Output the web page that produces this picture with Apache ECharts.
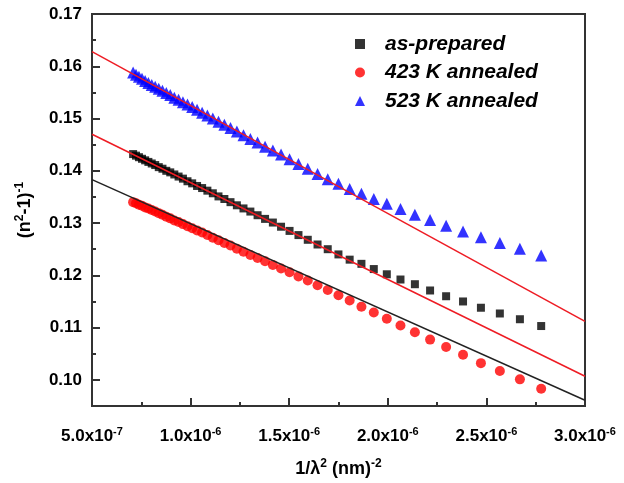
<!DOCTYPE html>
<html><head><meta charset="utf-8">
<script src="https://cdn.jsdelivr.net/npm/echarts@6/dist/echarts.min.js"></script>
<style>html,body{margin:0;padding:0;background:#fff}#c{width:624px;height:483px}</style>
</head><body><div id="c"></div>
<script>
// x = 1/lambda^2 (nm^-2)
const xValues = [7.085e-7, 7.231e-7, 7.381e-7, 7.535e-7, 7.695e-7, 7.859e-7, 8.029e-7, 8.205e-7, 8.386e-7, 8.573e-7,
  8.767e-7, 8.968e-7, 9.175e-7, 9.390e-7, 9.612e-7, 9.842e-7, 1.0080e-6, 1.0328e-6, 1.0584e-6, 1.0851e-6,
  1.1127e-6, 1.1414e-6, 1.1713e-6, 1.2023e-6, 1.2346e-6, 1.2682e-6, 1.3031e-6, 1.3396e-6, 1.3776e-6, 1.4172e-6,
  1.4586e-6, 1.5018e-6, 1.5470e-6, 1.5942e-6, 1.6437e-6, 1.6954e-6, 1.7497e-6, 1.8066e-6, 1.8663e-6, 1.9290e-6,
  1.9950e-6, 2.0643e-6, 2.1374e-6, 2.2144e-6, 2.2957e-6, 2.3815e-6, 2.4722e-6, 2.5682e-6, 2.6699e-6, 2.7778e-6];
const asPrepared = [0.1432, 0.1429, 0.1426, 0.1423, 0.1420, 0.1417, 0.1414, 0.1411, 0.1407, 0.1404,
  0.1400, 0.1397, 0.1393, 0.1389, 0.1385, 0.1380, 0.1376, 0.1371, 0.1367, 0.1362,
  0.1357, 0.1351, 0.1346, 0.1340, 0.1334, 0.1328, 0.1322, 0.1315, 0.1308, 0.1301,
  0.1293, 0.1285, 0.1277, 0.1268, 0.1259, 0.1250, 0.1240, 0.1230, 0.1222, 0.1212,
  0.1202, 0.1192, 0.1183, 0.1171, 0.1160, 0.1150, 0.1138, 0.1127, 0.1116, 0.1103];
const annealed423 = [0.1340, 0.1338, 0.1335, 0.1333, 0.1330, 0.1328, 0.1325, 0.1322, 0.1319, 0.1316,
  0.1312, 0.1309, 0.1305, 0.1302, 0.1298, 0.1294, 0.1290, 0.1286, 0.1282, 0.1277,
  0.1272, 0.1267, 0.1262, 0.1257, 0.1251, 0.1245, 0.1239, 0.1233, 0.1227, 0.1220,
  0.1213, 0.1206, 0.1198, 0.1190, 0.1181, 0.1172, 0.1162, 0.1152, 0.1140, 0.1129,
  0.1117, 0.1104, 0.1091, 0.1077, 0.1063, 0.1048, 0.1032, 0.1017, 0.1001, 0.0983];
const annealed523 = [0.1588, 0.1584, 0.1580, 0.1576, 0.1572, 0.1568, 0.1564, 0.1561, 0.1557, 0.1553,
  0.1549, 0.1545, 0.1540, 0.1536, 0.1531, 0.1527, 0.1522, 0.1517, 0.1511, 0.1506,
  0.1500, 0.1494, 0.1488, 0.1482, 0.1475, 0.1468, 0.1461, 0.1454, 0.1446, 0.1439,
  0.1431, 0.1422, 0.1413, 0.1404, 0.1394, 0.1384, 0.1375, 0.1365, 0.1356, 0.1346,
  0.1337, 0.1327, 0.1316, 0.1306, 0.1295, 0.1284, 0.1273, 0.1262, 0.1251, 0.1238];
// linear fits (end points at x = 5e-7 and 3e-6)
const fitX = [5e-7, 3e-6];
const fitAsPrepared = [0.1470, 0.1007];
const fit423 = [0.1383, 0.0961];
const fit523 = [0.1628, 0.1112];
// ticks
const xTickValues = [5e-7, 1e-6, 1.5e-6, 2e-6, 2.5e-6, 3e-6];
const xTickLabels = [['5.0', '-7'], ['1.0', '-6'], ['1.5', '-6'], ['2.0', '-6'], ['2.5', '-6'], ['3.0', '-6']];
const yTickValues = [0.10, 0.11, 0.12, 0.13, 0.14, 0.15, 0.16, 0.17];
const yTickLabels = ['0.10', '0.11', '0.12', '0.13', '0.14', '0.15', '0.16', '0.17'];
const yMinorTicks = [0.095, 0.105, 0.115, 0.125, 0.135, 0.145, 0.155, 0.165];
const seriesNames = ['as-prepared', '423 K annealed', '523 K annealed'];

const FONT = 'Liberation Sans, Arial, sans-serif';
const AX = '#333';
const pts = arr => xValues.map((x, i) => [x, arr[i]]);
const fitLine = arr => fitX.map((x, i) => [x, arr[i]]);

const chart = echarts.init(document.getElementById('c'), null, {renderer: 'canvas'});
chart.setOption({
  animation: false,
  backgroundColor: '#fff',
  grid: {left: 92, right: 39, top: 14, bottom: 75, show: true, borderColor: AX, borderWidth: 2, containLabel: false},
  legend: {
    data: seriesNames.map(n => ({name: n})),
    orient: 'vertical', left: 350, top: 27, itemGap: 4.5,
    itemWidth: 10, itemHeight: 10,
    textStyle: {fontFamily: FONT, fontSize: 21, lineHeight: 24, fontWeight: 'bold', fontStyle: 'italic', color: '#000', padding: [0, 0, 0, 15]}
  },
  xAxis: {
    type: 'value', min: 5e-7, max: 3e-6, interval: 5e-7,
    axisLine: {lineStyle: {color: AX, width: 2}},
    axisTick: {inside: true, length: 8, lineStyle: {color: AX, width: 2}},
    minorTick: {show: true, splitNumber: 2, length: 4, lineStyle: {color: AX, width: 2}},
    splitLine: {show: false},
    axisLabel: {
      margin: 20,
      formatter: v => {
        const i = xTickValues.findIndex(t => Math.abs(t - v) < 1e-10);
        if (i < 0) return '';
        return '{m|' + xTickLabels[i][0] + 'x10}{s|' + xTickLabels[i][1] + '}';
      },
      rich: {
        m: {fontFamily: FONT, fontSize: 17, fontWeight: 'bold', color: '#000', lineHeight: 20},
        s: {fontFamily: FONT, fontSize: 11, fontWeight: 'bold', color: '#000', verticalAlign: 'top', lineHeight: 20}
      }
    },
    name: '{m|1/\u03bb}{s|2}{m| (nm)}{s|-2}',
    nameLocation: 'middle', nameGap: 52,
    nameTextStyle: {
      rich: {
        m: {fontFamily: FONT, fontSize: 18, fontWeight: 'bold', color: '#000', lineHeight: 22},
        s: {fontFamily: FONT, fontSize: 12, fontWeight: 'bold', color: '#000', verticalAlign: 'top', lineHeight: 22}
      }
    }
  },
  yAxis: [{
    type: 'value', min: 0.095, max: 0.17,
    axisLine: {lineStyle: {color: AX, width: 2}},
    axisTick: {inside: true, length: 8, customValues: yTickValues, lineStyle: {color: AX, width: 2}},
    splitLine: {show: false},
    axisLabel: {
      customValues: yTickValues, margin: 10,
      formatter: v => {
        const i = yTickValues.findIndex(t => Math.abs(t - v) < 1e-6);
        return i < 0 ? '' : yTickLabels[i];
      },
      fontFamily: FONT, fontSize: 17, fontWeight: 'bold', color: '#000'
    },
    name: '{m|(n}{s|2}{m|-1)}{s|-1}',
    nameLocation: 'middle', nameRotate: 90, nameGap: 56,
    nameTextStyle: {
      rich: {
        m: {fontFamily: FONT, fontSize: 18, fontWeight: 'bold', color: '#000', lineHeight: 22},
        s: {fontFamily: FONT, fontSize: 12, fontWeight: 'bold', color: '#000', verticalAlign: 'top', lineHeight: 22}
      }
    }
  }, {
    type: 'value', min: 0.095, max: 0.17, position: 'left',
    axisLine: {show: false},
    axisTick: {show: true, inside: true, length: 4, customValues: yMinorTicks, lineStyle: {color: AX, width: 2}},
    axisLabel: {show: false},
    splitLine: {show: false}
  }],
  series: [
    {name: seriesNames[0], type: 'scatter', symbol: 'rect', symbolSize: 8, itemStyle: {color: '#000'}, data: pts(asPrepared), z: 2},
    {name: seriesNames[1], type: 'scatter', symbol: 'circle', symbolSize: 10, itemStyle: {color: '#ff0000'}, data: pts(annealed423), z: 2},
    {name: seriesNames[2], type: 'scatter', symbol: 'triangle', symbolSize: 12, itemStyle: {color: '#0000ff'}, data: pts(annealed523), z: 2},
    {name: 'fit-as', type: 'line', showSymbol: false, symbol: 'none', lineStyle: {color: '#ee1c24', width: 1.5}, data: fitLine(fitAsPrepared), z: 5},
    {name: 'fit-423', type: 'line', showSymbol: false, symbol: 'none', lineStyle: {color: '#222', width: 1.5}, data: fitLine(fit423), z: 5},
    {name: 'fit-523', type: 'line', showSymbol: false, symbol: 'none', lineStyle: {color: '#ee1c24', width: 1.5}, data: fitLine(fit523), z: 5}
  ]
});
</script>
</body></html>
